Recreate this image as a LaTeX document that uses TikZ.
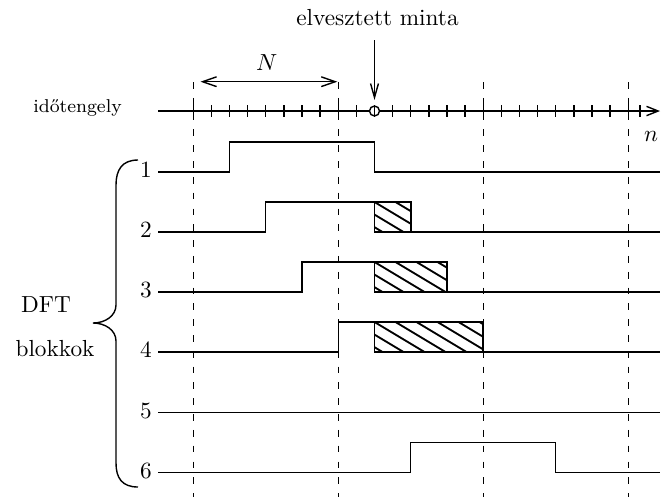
\documentclass[tikz,border=0pt]{standalone}
\usetikzlibrary{arrows.meta}
\begin{document}
\begin{tikzpicture}[x=0.43pt,y=-0.43pt,
  sig/.style={line width=0.6pt},
  gridline/.style={line width=0.6pt, dash pattern=on 2.9pt off 3.9pt},
  hatch/.style={line width=0.8pt},
  lbl/.style={inner sep=0pt},
  barb/.style={-{Straight Barb[length=5pt,width=4pt]}, line width=0.6pt},
  dbarb/.style={{Straight Barb[length=6pt,width=4.2pt]}-{Straight Barb[length=6pt,width=4.2pt]}, line width=0.6pt}
]
\useasboundingbox (0,0) rectangle (661,497);
% dashed block borders
\foreach \x in {193.25,338.25,483.25,628.25}
  \draw[gridline] (\x,82) -- (\x,497);
% time axis
\coordinate (ax0) at (158,111);
\coordinate (ax1) at (660,111);
\draw[barb] (ax0) -- (ax1);
\foreach \i in {0,...,24}
  \draw[sig] (193.25+\i*18.125,105) -- ++(0,12);
\draw[sig] (640,105) -- ++(0,12);
\draw[sig, fill=white] (374.5,111) circle[radius=5];
\draw[sig] (374.5,106) -- (374.5,116);
\node[lbl, font=\footnotesize, anchor=base] (axl) at (77.5,112) {időtengely};
\node[lbl, anchor=base] (nl) at (651,141.7) {$n$};
% lost sample
\node[lbl, anchor=base] (lost) at (377.5,25) {elvesztett minta};
\coordinate (la) at (374.5,40);
\coordinate (lb) at (374.5,100);
\draw[-{Straight Barb[length=6pt,width=3.4pt]}, line width=0.6pt] (la) -- (lb);
% N arrow
\coordinate (na) at (200.5,81.7);
\coordinate (nb) at (337.3,81.7);
\draw[dbarb] (na) -- (nb);
\node[lbl, anchor=base] (Nl) at (266.7,70) {$N$};
% signals
\draw[sig] (158,172) -- (229.5,172) -- (229.5,142) -- (374.5,142) -- (374.5,172) -- (660,172);
\draw[sig] (158,232) -- (265.75,232) -- (265.75,202) -- (374.5,202);
\draw[sig] (410.75,232) -- (660,232);
\draw[sig] (158,292) -- (302,292) -- (302,262) -- (374.5,262);
\draw[sig] (447,292) -- (660,292);
\draw[sig] (158,352) -- (338.25,352) -- (338.25,322) -- (374.5,322);
\draw[sig] (483.25,352) -- (660,352);
\draw[sig] (158,412.5) -- (660,412.5);
\draw[sig] (158,472.5) -- (410.75,472.5) -- (410.75,442.5) -- (555.75,442.5) -- (555.75,472.5) -- (660,472.5);
% hatched boxes
\foreach \a/\b/\c/\d in {374.5/202/410.75/232, 374.5/262/447/292, 374.5/322/483.25/352}{
  \begin{scope}
    \clip (\a,\b) rectangle (\c,\d);
    \foreach \k in {-3,...,7}
      \draw[hatch] (\a+\k*21,\b) -- ++(80,48);
  \end{scope}
  \draw[line width=0.8pt] (\a,\b) rectangle (\c,\d);
}
% row labels
\foreach \r/\y in {1/172,2/232,3/292,4/352,5/412.5,6/472.5}
  \node[lbl] (r\r) at (146,\y-2) {\r};
% brace
\draw[sig] (138,160) .. controls (122,160) and (116,170) .. (116,185) -- (116,305)
  .. controls (116,316) and (105,323) .. (93,323)
  .. controls (105,323) and (116,330) .. (116,341) -- (116,463)
  .. controls (116,478) and (122,487) .. (138,487);
\node[lbl] (dft) at (46,305) {DFT};
\node[lbl] (blk) at (55,349) {blokkok};
\end{tikzpicture}
\end{document}
